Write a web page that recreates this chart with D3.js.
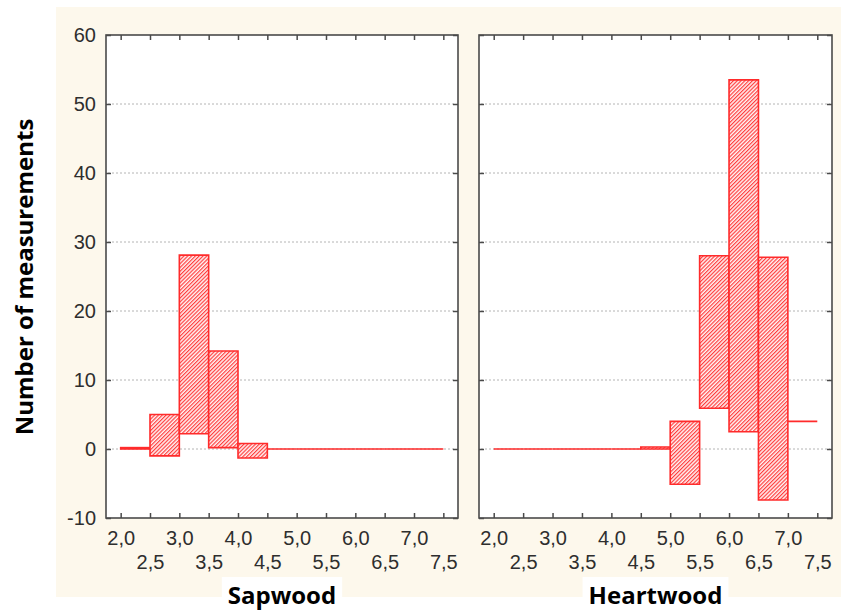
<!DOCTYPE html>
<html>
<head>
<meta charset="utf-8">
<script src="https://cdn.jsdelivr.net/npm/d3@7"></script>
<style>
  html, body { margin: 0; padding: 0; background: #ffffff; }
  svg { display: block; }
</style>
</head>
<body>
<svg id="chart" width="841" height="613"></svg>
<script>
// Class intervals (lower and upper edge) shared by both panels
const binLower = [2.0, 2.5, 3.0, 3.5, 4.0, 4.5, 5.0, 5.5, 6.0, 6.5, 7.0];
const binUpper = [2.5, 3.0, 3.5, 4.0, 4.5, 5.0, 5.5, 6.0, 6.5, 7.0, 7.5];

// Sapwood: bottom and top of each box
const sapwoodLow  = [0.0, -1.0, 2.2, 0.2, -1.3, 0, 0, 0, 0, 0, 0];
const sapwoodHigh = [0.2,  5.0, 28.1, 14.2, 0.8, 0, 0, 0, 0, 0, 0];

// Heartwood: bottom and top of each box
const heartwoodLow  = [0, 0, 0, 0, 0, 0.0, -5.1,  5.9,  2.5, -7.4, 4.0];
const heartwoodHigh = [0, 0, 0, 0, 0, 0.3,  4.0, 28.0, 53.5, 27.8, 4.0];

// Axis ticks and labels
const xTicks = [2.0, 2.5, 3.0, 3.5, 4.0, 4.5, 5.0, 5.5, 6.0, 6.5, 7.0, 7.5];
const xTickLabels = ["2,0", "2,5", "3,0", "3,5", "4,0", "4,5", "5,0", "5,5", "6,0", "6,5", "7,0", "7,5"];
const yTicks = [-10, 0, 10, 20, 30, 40, 50, 60];
const yTickLabels = ["-10", "0", "10", "20", "30", "40", "50", "60"];
const yGrid = [0, 10, 20, 30, 40, 50];

const panelTitles = ["Sapwood", "Heartwood"];
const yTitle = "Number of measurements";

const RED = "#ff2b2b";
const FRAME = "#4a4a4a";
const TICKTEXT = "#2e2e2e";
const TITLE_FONT = "'Open Sans', 'Noto Sans', sans-serif";
const TICK_FONT = "'Liberation Sans', Arial, sans-serif";

const svg = d3.select("#chart");

// cream backdrop behind the plotting region
svg.append("rect")
  .attr("x", 56).attr("y", 7)
  .attr("width", 785).attr("height", 590)
  .attr("fill", "#fdf8ec");

// diagonal hatch used to fill the boxes
const defs = svg.append("defs");
const pat = defs.append("pattern")
  .attr("id", "hatch")
  .attr("patternUnits", "userSpaceOnUse")
  .attr("width", 2.7).attr("height", 2.7)
  .attr("patternTransform", "rotate(45)");
pat.append("rect").attr("width", 2.7).attr("height", 2.7).attr("fill", "#fff4f4");
pat.append("line")
  .attr("x1", 0.6).attr("y1", 0).attr("x2", 0.6).attr("y2", 2.7)
  .attr("stroke", "#ff3636").attr("stroke-width", 1.15);

const plotTop = 35, plotBottom = 518;
const y = d3.scaleLinear().domain([-10, 60]).range([plotBottom, plotTop]);

const panels = [
  { left: 106, right: 458, low: sapwoodLow, high: sapwoodHigh, title: panelTitles[0], showY: true },
  { left: 479, right: 832, low: heartwoodLow, high: heartwoodHigh, title: panelTitles[1], showY: false }
];

panels.forEach(p => {
  const x = d3.scaleLinear().domain([1.75, 7.75]).range([p.left, p.right]);
  const g = svg.append("g");

  // plot area
  g.append("rect")
    .attr("x", p.left).attr("y", plotTop)
    .attr("width", p.right - p.left).attr("height", plotBottom - plotTop)
    .attr("fill", "#ffffff");

  // dotted horizontal grid
  g.append("g").selectAll("line").data(yGrid).join("line")
    .attr("x1", p.left + 2).attr("x2", p.right - 2)
    .attr("y1", d => y(d)).attr("y2", d => y(d))
    .attr("stroke", "#b4b4b4").attr("stroke-width", 1)
    .attr("stroke-dasharray", "2,2");

  // boxes
  const rows = binLower.map((b, i) => ({ x0: b, x1: binUpper[i], lo: p.low[i], hi: p.high[i] }));
  g.append("g").selectAll("path").data(rows).join("path")
    .attr("d", d => {
      const xa = x(d.x0), xb = x(d.x1), ya = y(d.hi), yb = y(d.lo);
      return `M${xa},${ya}H${xb}V${yb}H${xa}Z`;
    })
    .attr("fill", "url(#hatch)")
    .attr("stroke", RED).attr("stroke-width", 1.6)
    .attr("stroke-linejoin", "miter");

  // bottom axis: inward ticks, labels on two staggered rows
  const xb = g.append("g").attr("transform", `translate(0,${plotBottom})`)
    .call(d3.axisBottom(x).tickValues(xTicks).tickSize(-5).tickFormat((d, i) => xTickLabels[i]));
  xb.select(".domain").remove();
  xb.selectAll(".tick line").attr("stroke", FRAME).attr("stroke-width", 1.5);
  xb.selectAll(".tick text")
    .attr("y", (d, i) => i % 2 === 0 ? 27 : 51)
    .attr("dy", 0)
    .attr("fill", TICKTEXT)
    .style("font-family", TICK_FONT)
    .style("font-size", "20px");

  // top axis: inward ticks only
  const xt = g.append("g").attr("transform", `translate(0,${plotTop})`)
    .call(d3.axisTop(x).tickValues(xTicks).tickSize(-5).tickFormat(""));
  xt.select(".domain").remove();
  xt.selectAll(".tick line").attr("stroke", FRAME).attr("stroke-width", 1.5);

  // left axis
  const yl = g.append("g").attr("transform", `translate(${p.left},0)`)
    .call(d3.axisLeft(y).tickValues(yTicks).tickSize(-5).tickPadding(10)
      .tickFormat((d, i) => p.showY ? yTickLabels[i] : ""));
  yl.select(".domain").remove();
  yl.selectAll(".tick line").attr("stroke", FRAME).attr("stroke-width", 1.5);
  yl.selectAll(".tick text")
    .attr("fill", TICKTEXT)
    .style("font-family", TICK_FONT)
    .style("font-size", "20px");

  // right axis: inward ticks
  const yr = g.append("g").attr("transform", `translate(${p.right},0)`)
    .call(d3.axisRight(y).tickValues(yTicks).tickSize(-5).tickFormat(""));
  yr.select(".domain").remove();
  yr.selectAll(".tick line").attr("stroke", FRAME).attr("stroke-width", 1.5);

  // frame
  g.append("rect")
    .attr("x", p.left).attr("y", plotTop)
    .attr("width", p.right - p.left).attr("height", plotBottom - plotTop)
    .attr("fill", "none").attr("stroke", FRAME).attr("stroke-width", 1.6);

  // panel title on a white plate
  const cx = (x(2.0) + x(7.5)) / 2;
  const plate = g.append("rect").attr("fill", "#ffffff");
  const title = g.append("text")
    .attr("x", cx).attr("y", 604)
    .attr("text-anchor", "middle")
    .style("font-family", TITLE_FONT)
    .style("font-weight", "bold")
    .style("font-size", "24px")
    .attr("fill", "#000")
    .text(p.title);
  const bb = title.node().getBBox();
  plate.attr("x", bb.x - 6).attr("y", 577)
    .attr("width", bb.width + 12).attr("height", 36);
});

// vertical axis title
svg.append("text")
  .attr("transform", "translate(33,277) rotate(-90)")
  .attr("text-anchor", "middle")
  .style("font-family", TITLE_FONT)
  .style("font-weight", "bold")
  .style("font-size", "24px")
  .attr("fill", "#000")
  .text(yTitle);
</script>
</body>
</html>
